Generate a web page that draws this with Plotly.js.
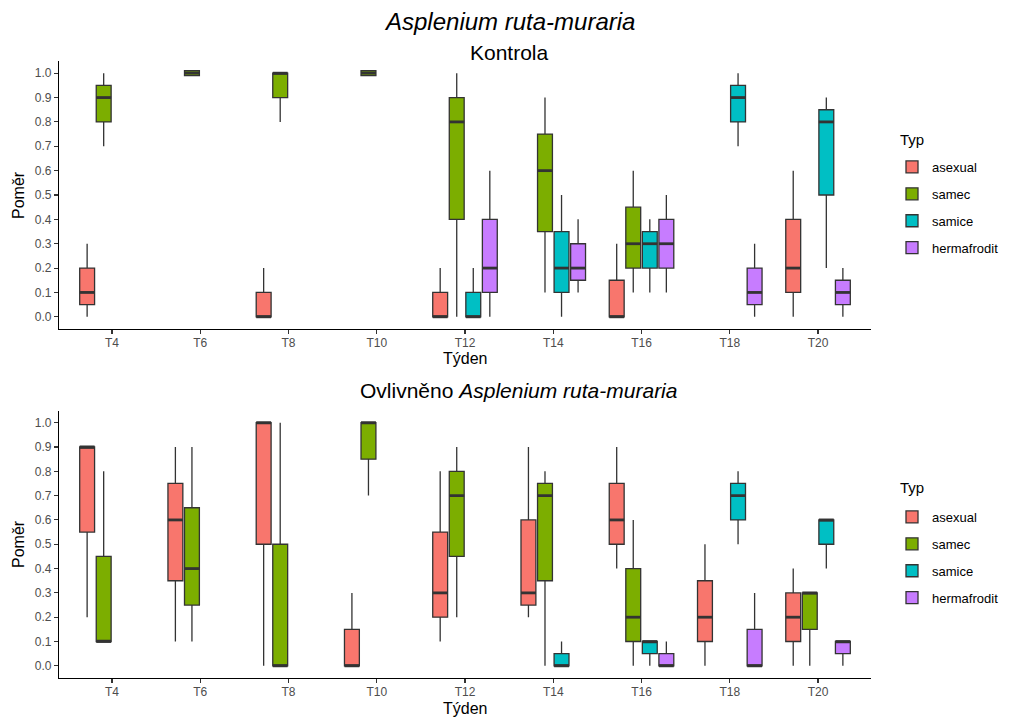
<!DOCTYPE html>
<html><head><meta charset="utf-8">
<script src="https://cdn.plot.ly/plotly-3.0.1.min.js"></script>
<style>html,body{margin:0;padding:0;background:#fff}</style>
</head><body><div id="chart" style="width:1013px;height:718px"></div>
<script>
const weeks = ['T4','T6','T8','T10','T12','T14','T16','T18','T20'];
const types = ['asexual','samec','samice','hermafrodit'];
const typeColors = ['#F8766D','#7CAE00','#00BFC4','#C77CFF'];

// Kontrola (index order = types)
const kWeeks = [
  ['T4','T8','T12','T16','T20'],
  ['T4','T6','T8','T10','T12','T14','T16'],
  ['T12','T14','T16','T18','T20'],
  ['T12','T14','T16','T18','T20']
];
const kLow  = [[0,0,0,0,0],[0.7,0.99,0.8,0.99,0,0.1,0.1],[0,0,0.1,0.7,0.2],[0,0.1,0.1,0,0]];
const kQ1   = [[0.05,0,0,0,0.1],[0.8,0.99,0.9,0.99,0.4,0.35,0.2],[0,0.1,0.2,0.8,0.5],[0.1,0.15,0.2,0.05,0.05]];
const kMed  = [[0.1,0,0,0,0.2],[0.9,1.0,1.0,1.0,0.8,0.6,0.3],[0,0.2,0.3,0.9,0.8],[0.2,0.2,0.3,0.1,0.1]];
const kQ3   = [[0.2,0.1,0.1,0.15,0.4],[0.95,1.01,1.0,1.01,0.9,0.75,0.45],[0.1,0.35,0.35,0.95,0.85],[0.4,0.3,0.4,0.2,0.15]];
const kHigh = [[0.3,0.2,0.2,0.3,0.6],[1.0,1.01,1.0,1.01,1.0,0.9,0.6],[0.2,0.5,0.4,1.0,0.9],[0.6,0.4,0.5,0.3,0.2]];

// Ovlivněno Asplenium ruta-muraria
const oWeeks = [
  ['T4','T6','T8','T10','T12','T14','T16','T18','T20'],
  ['T4','T6','T8','T10','T12','T14','T16','T20'],
  ['T14','T16','T18','T20'],
  ['T16','T18','T20']
];
const oLow  = [[0.2,0.1,0,0,0.1,0.2,0.4,0,0],[0.1,0.1,0,0.7,0.2,0,0,0],[0,0,0.5,0.4],[0,0,0]];
const oQ1   = [[0.55,0.35,0.5,0,0.2,0.25,0.5,0.1,0.1],[0.1,0.25,0,0.85,0.45,0.35,0.1,0.15],[0,0.05,0.6,0.5],[0,0,0.05]];
const oMed  = [[0.9,0.6,1.0,0,0.3,0.3,0.6,0.2,0.2],[0.1,0.4,0,1.0,0.7,0.7,0.2,0.3],[0,0.1,0.7,0.6],[0,0,0.1]];
const oQ3   = [[0.9,0.75,1.0,0.15,0.55,0.6,0.75,0.35,0.3],[0.45,0.65,0.5,1.0,0.8,0.75,0.4,0.3],[0.05,0.1,0.75,0.6],[0.05,0.15,0.1]];
const oHigh = [[0.9,0.9,1.0,0.3,0.8,0.9,0.9,0.5,0.4],[0.8,0.9,1.0,1.0,0.9,0.8,0.6,0.3],[0.1,0.1,0.8,0.6],[0.1,0.3,0.1]];

const BOXGAP = 0.25, GROUPGAP = 0.1;
const LINE = '#333333';
const FONT = 'Liberation Sans, Arial, sans-serif';

function panel(wk, lo, q1, med, q3, hi, xa, ya, legendId) {
  const boxes = [], meds = [];
  const slot = (1 - BOXGAP) / types.length;
  const hw = slot * (1 - GROUPGAP) / 2;
  types.forEach((t, i) => {
    const xs = wk[i].map(w => weeks.indexOf(w));
    boxes.push({
      type: 'box', name: t, orientation: 'v', x: xs, offsetgroup: t,
      q1: q1[i], median: med[i], q3: q3[i], lowerfence: lo[i], upperfence: hi[i],
      xaxis: xa, yaxis: ya, legend: legendId, legendgroup: legendId + t,
      fillcolor: typeColors[i], line: {color: LINE, width: 1.3},
      whiskerwidth: 0, boxpoints: false, hoverinfo: 'skip'
    });
    const mx = [], my = [];
    xs.forEach((p, j) => {
      const c = p + (i - (types.length - 1) / 2) * slot;
      mx.push(c - hw, c + hw, null);
      my.push(med[i][j], med[i][j], null);
    });
    meds.push({
      type: 'scatter', mode: 'lines', x: mx, y: my, xaxis: xa, yaxis: ya,
      line: {color: LINE, width: 2.8}, showlegend: false, hoverinfo: 'skip',
      legend: legendId, legendgroup: legendId + t
    });
  });
  return boxes.concat(meds);
}

const data = panel(kWeeks, kLow, kQ1, kMed, kQ3, kHigh, 'x', 'y', 'legend')
  .concat(panel(oWeeks, oLow, oQ1, oMed, oQ3, oHigh, 'x2', 'y2', 'legend2'));

const H = 718, L = 59, R = 142, PW = 1013 - L - R;
const px = v => (v - L) / PW;
const py = v => 1 - v / H;

function xax(anchor) {
  return {
    anchor: anchor, domain: [0, 1], range: [-0.6, 8.6],
    tickmode: 'array', tickvals: weeks.map((w, i) => i), ticktext: weeks,
    showline: true, linecolor: '#000', linewidth: 1.2, mirror: false,
    ticks: 'outside', ticklen: 4, tickcolor: LINE, tickwidth: 1.1, ticklabelstandoff: -2,
    showgrid: false, zeroline: false, tickfont: {size: 12, color: '#4D4D4D', family: FONT}
  };
}
function yax(anchor, dom) {
  return {
    anchor: anchor, domain: dom, range: [-0.05, 1.05],
    tickmode: 'linear', tick0: 0, dtick: 0.1, tickformat: '.1f',
    showline: true, linecolor: '#000', linewidth: 1.2, mirror: false,
    ticks: 'outside', ticklen: 4, tickcolor: LINE, tickwidth: 1.1,
    showgrid: false, zeroline: false, tickfont: {size: 12, color: '#4D4D4D', family: FONT}
  };
}
function leg(topPx) {
  return {
    x: px(892), xanchor: 'left', y: py(topPx), yanchor: 'top',
    font: {size: 13, color: '#000', family: FONT},
    traceorder: 'grouped', tracegroupgap: 7, bgcolor: 'rgba(0,0,0,0)'
  };
}

const ann = (text, x, y, size, extra) => Object.assign({
  text: text, xref: 'paper', yref: 'paper', x: x, y: y,
  xanchor: 'center', yanchor: 'middle', showarrow: false,
  font: {size: size, color: '#000', family: FONT}
}, extra || {});

const layout = {
  width: 1013, height: 718,
  margin: {l: L, r: R, t: 0, b: 0},
  paper_bgcolor: '#fff', plot_bgcolor: '#fff',
  font: {family: FONT},
  boxmode: 'group', boxgap: BOXGAP, boxgroupgap: GROUPGAP,
  xaxis: xax('y'), yaxis: yax('x', [py(329), py(61)]),
  xaxis2: xax('y2'), yaxis2: yax('x2', [py(678), py(410.5)]),
  legend: leg(152), legend2: leg(502),
  annotations: [
    ann('<i>Asplenium ruta-muraria</i>', px(510), py(22), 24),
    ann('Kontrola', px(510), py(52), 21),
    ann('Ovlivněno <i>Asplenium ruta-muraria</i>', px(518), py(390), 21),
    ann('Týden', 0.5, py(358), 16),
    ann('Týden', 0.5, py(708), 16),
    ann('Poměr', px(18), py(195), 16, {textangle: -90}),
    ann('Poměr', px(18), py(544), 16, {textangle: -90}),
    ann('Typ', px(898), py(140), 15, {xanchor: 'left'}),
    ann('Typ', px(898), py(487), 15, {xanchor: 'left'})
  ]
};

Plotly.newPlot('chart', data, layout, {staticPlot: true, displayModeBar: false});
</script></body></html>
